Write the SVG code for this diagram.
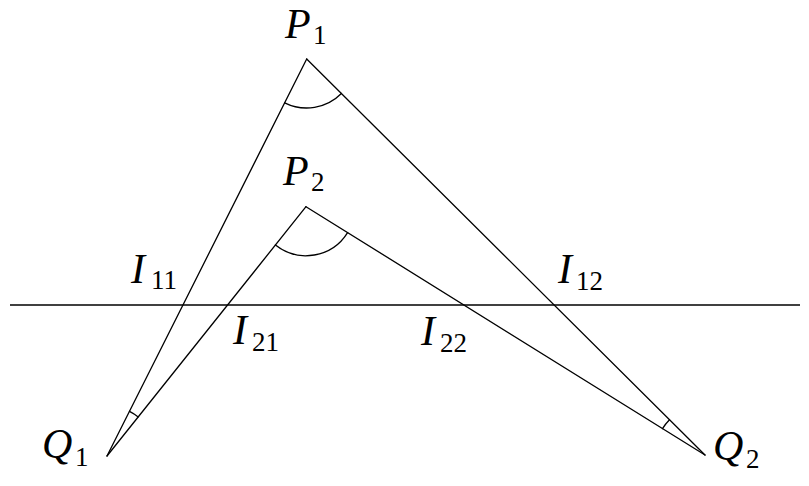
<svg xmlns="http://www.w3.org/2000/svg" width="809" height="486" viewBox="0 0 809 486">
<style>
.ln{stroke:#000;stroke-width:1.3;fill:none;stroke-linecap:round}
.base{stroke:#000;stroke-width:1.7;fill:none}
.lbl{font-family:"Liberation Serif","DejaVu Serif",serif;font-size:42px;font-style:italic;fill:#000}
.sub{font-family:"Liberation Serif","DejaVu Serif",serif;font-size:27px;font-style:normal;fill:#000}
</style>
<rect width="809" height="486" fill="#fff"/>
<g id="connectors">
<line class="base" x1="10" y1="305" x2="800" y2="305"/>
<line class="ln" x1="306.7" y1="59" x2="107" y2="456"/>
<line class="ln" x1="306.7" y1="59" x2="705" y2="455"/>
<line class="ln" x1="306" y1="206.7" x2="107" y2="456"/>
<line class="ln" x1="306" y1="206.7" x2="705" y2="455"/>
<path class="ln" d="M284.7,102.8 A49,49 0 0 0 341.4,93.5"/>
<path class="ln" d="M275.4,245 A49,49 0 0 0 347.6,232.6"/>
<path class="ln" d="M129.5,411.3 A50,50 0 0 1 138.2,416.9"/>
<path class="ln" d="M669.5,419.7 A50,50 0 0 0 662.5,428.6"/>
</g>
<g id="P1"><text class="lbl" x="285" y="38">P</text><text class="sub" x="313" y="44">1</text></g>
<g id="P2"><text class="lbl" x="283" y="185">P</text><text class="sub" x="311" y="191">2</text></g>
<g id="Q1"><text class="lbl" x="42" y="458">Q</text><text class="sub" x="75" y="466">1</text></g>
<g id="Q2"><text class="lbl" x="713" y="460">Q</text><text class="sub" x="746" y="468">2</text></g>
<g id="I11"><text class="lbl" x="131" y="283">I</text><text class="sub" x="151" y="289">11</text></g>
<g id="I12"><text class="lbl" x="558" y="283">I</text><text class="sub" x="576" y="290">12</text></g>
<g id="I21"><text class="lbl" x="233" y="344">I</text><text class="sub" x="252" y="351">21</text></g>
<g id="I22"><text class="lbl" x="421" y="345">I</text><text class="sub" x="440" y="352">22</text></g>
</svg>
